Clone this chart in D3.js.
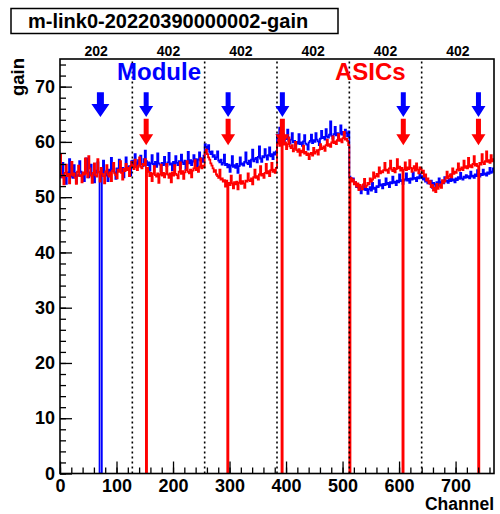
<!DOCTYPE html>
<html><head><meta charset="utf-8">
<script src="https://cdn.jsdelivr.net/npm/d3@7"></script>
<style>body{margin:0;background:#fff}svg{display:block}text{font-family:"Liberation Sans",Arial,sans-serif;font-weight:bold}</style>
</head><body><svg id="c" width="500" height="514"></svg>
<script>
// ---- data (gain per 2-channel bin, one array per ASIC section of 128 channels) ----
const sectionLabels = ["202","402","402","402","402","402"];
const sectionEdges = [128,256,384,512,640];
const xTicks = [0,100,200,300,400,500,600,700];
const yTicks = [0,10,20,30,40,50,60,70];
const moduleMarks = [71];
const asicMarks = [152,297,393,607,740];

const blue0 = [54.3,53.6,56.2,54.0,53.8,52.4,54.5,54.1,56.9,53.7,54.2,53.5,55.8,54.4,52.6,54.0,53.9,56.5,54.6,53.8,54.1,52.9,54.7,57.0,54.3,53.6,54.5,55.9,53.9,54.2,52.7,54.8,54.4,56.3,54.6,0,0,54.2,56.6,54.5,53.9,54.8,52.9,55.0,54.6,57.1,54.7,55.1,54.5,53.3,55.2,54.9,56.8,55.0,54.7,55.3,53.6,55.1,57.2,55.4,55.0,55.6,53.9,56.5];
const blue1 = [56.6,55.9,57.8,56.3,55.4,56.7,56.2,57.5,56.0,55.6,56.9,58.4,56.5,55.8,56.3,54.8,56.1,57.6,56.0,55.7,56.4,55.5,57.9,56.1,55.9,54.7,56.2,55.8,57.3,56.0,55.6,56.3,58.0,55.9,56.1,54.9,56.4,55.7,57.4,56.2,55.8,56.5,55.3,57.7,56.3,56.0,56.6,54.9,56.4,58.2,56.1,56.7,55.8,56.5,57.6,56.3,56.9,55.6,56.8,58.1,56.6,57.0,56.4,57.5];
const blue2 = [59.6,59.1,58.7,59.4,58.2,57.8,58.3,57.3,57.6,56.9,57.2,58.3,56.6,56.3,56.8,55.9,56.2,57.7,55.8,56.0,55.4,55.9,54.6,55.7,57.4,55.5,55.8,55.3,56.0,54.4,55.6,57.2,55.9,56.1,55.7,56.4,58.1,56.2,56.0,56.6,55.5,56.8,58.6,56.5,56.9,57.1,56.3,57.3,59.2,57.0,56.4,57.4,57.2,58.7,57.5,56.8,57.6,59.0,57.4,57.8,56.9,58.1,57.7,58.3];
const blue3 = [61.3,60.8,62.6,61.0,60.6,61.5,59.8,61.1,60.5,62.2,60.3,59.7,60.4,61.6,59.9,60.2,58.8,60.0,59.7,61.4,59.6,59.9,59.3,60.1,61.2,59.7,59.5,58.6,59.9,60.2,61.3,59.8,60.3,60.0,61.6,60.4,60.1,59.4,60.6,62.0,60.7,60.9,60.4,62.3,61.0,60.8,61.3,63.7,61.1,60.6,61.4,62.7,61.2,61.6,60.3,61.5,63.0,61.3,61.8,60.9,62.2,61.6,61.0,61.9];
const blue4 = [53.7,53.2,52.9,53.4,52.4,52.7,51.8,52.3,51.6,52.0,50.7,51.7,51.4,52.5,51.3,51.5,50.6,51.4,51.8,51.2,52.6,51.5,51.7,50.9,52.0,51.8,53.1,52.1,52.3,51.6,52.4,52.2,53.4,52.3,52.6,51.8,52.7,52.5,53.7,52.6,52.8,52.2,53.0,52.7,54.1,52.9,53.1,52.4,53.0,53.2,54.3,53.0,53.3,52.6,53.4,53.2,54.5,53.3,53.5,52.9,53.6,53.4,54.2,53.5];
const blue5 = [53.8,53.2,53.6,52.8,53.3,52.5,52.9,52.4,53.0,51.7,52.6,52.3,52.0,52.7,52.2,53.4,52.4,52.7,52.9,52.5,53.6,52.8,53.0,52.6,53.3,52.9,54.1,53.0,53.2,52.7,53.4,53.1,53.6,53.3,54.4,53.4,53.2,53.7,53.5,54.0,53.6,53.8,53.4,54.6,53.7,53.9,53.5,54.1,53.8,54.9,54.0,53.7,54.2,54.0,55.0,54.1,54.3,53.9,54.5,54.2,55.3,54.4,54.6,55.2];

const red0 = [57.8,54.0,53.6,52.3,54.4,55.9,53.8,54.2,52.5,54.1,56.4,53.9,54.3,53.5,52.4,54.6,55.7,53.8,54.0,52.7,54.5,54.1,57.0,54.3,53.6,57.4,55.2,53.9,52.6,54.4,56.1,54.0,53.7,56.9,54.5,52.8,55.3,54.2,53.8,52.5,54.6,55.8,54.1,53.7,54.5,52.9,54.8,56.2,54.3,54.0,53.4,55.0,54.6,56.5,54.4,53.2,55.1,54.7,56.0,54.9,55.3,53.8,55.6,56.4];
const red1 = [55.6,55.1,56.8,55.4,54.9,55.7,57.2,55.5,55.2,56.0,55.8,56.9,0,55.3,54.6,53.8,54.4,52.9,54.2,55.6,54.0,53.7,54.3,52.6,54.1,55.9,53.9,54.4,53.6,54.2,56.0,54.1,53.5,54.3,52.7,54.5,53.9,55.8,54.2,54.0,53.4,54.6,56.3,54.2,54.7,53.3,54.5,54.9,56.5,54.6,54.3,55.0,53.6,54.8,55.2,56.7,54.9,55.3,54.6,55.5,57.0,55.2,55.7,55.4];
const red2 = [58.1,58.6,57.8,57.2,56.8,56.1,55.7,55.2,54.6,54.9,54.1,53.8,53.5,55.0,53.2,53.4,52.8,53.1,51.9,53.0,0,52.6,52.2,53.9,52.5,51.6,52.7,52.3,52.8,51.4,52.6,54.0,52.4,52.9,52.5,51.7,53.0,52.8,54.3,53.1,52.9,53.4,52.3,53.6,55.0,53.5,53.8,53.2,54.1,55.6,53.9,54.2,53.5,54.4,56.0,54.3,54.7,53.8,54.9,56.2,54.6,55.0,54.4,55.3];
const red3 = [59.7,60.4,59.3,62.0,0,60.1,59.5,59.9,58.7,59.6,60.8,59.2,58.9,59.4,58.3,58.8,60.0,58.5,58.2,58.7,57.5,58.4,58.1,59.3,57.9,58.2,57.6,57.9,56.9,57.8,58.0,57.5,58.9,57.9,58.2,58.5,57.7,58.6,59.6,58.7,58.9,59.2,58.4,59.4,60.4,59.3,59.6,59.1,59.9,61.0,59.8,60.1,59.6,60.3,61.4,60.2,60.5,59.9,60.7,61.8,60.4,60.6,60.2,59.4];
const red4 = [0,53.5,52.8,53.2,52.3,52.7,51.9,52.5,51.3,52.2,51.9,51.4,52.3,53.3,51.8,52.1,52.6,52.3,53.4,52.8,53.2,54.5,53.5,53.8,54.2,53.7,55.4,54.3,54.7,54.5,54.9,56.2,54.8,55.0,54.4,55.2,56.6,55.0,54.7,55.3,54.5,55.1,56.9,55.2,55.5,54.8,55.3,0,55.0,56.3,54.9,55.4,55.1,56.7,55.3,54.6,55.2,55.6,54.8,56.1,55.0,54.3,55.4,55.1];
const red5 = [54.3,54.8,53.7,54.1,53.0,53.4,52.5,52.9,51.8,52.2,51.2,51.7,50.9,52.4,51.5,51.9,52.3,51.7,53.1,52.6,52.9,53.5,54.6,53.4,53.8,54.1,53.6,55.2,54.2,54.6,54.4,55.0,56.1,54.8,55.1,55.4,54.9,56.6,55.3,55.6,55.2,57.1,55.5,55.8,55.4,56.0,57.4,55.7,56.0,55.6,0,56.2,55.9,57.8,56.3,56.0,56.5,58.3,56.4,56.7,56.2,57.6,56.5,56.9];

const blueSections = [blue0,blue1,blue2,blue3,blue4,blue5];
const redSections = [red0,red1,red2,red3,red4,red5];
const binWidth = 2;

// ---- drawing ----
const svg = d3.select("#c");
const L=60,R=494,T=59,B=473.5;
const x = d3.scaleLinear().domain([0,768]).range([L,R]);
const y = d3.scaleLinear().domain([0,75]).range([B,T]);

svg.append("defs").append("clipPath").attr("id","clip")
  .append("rect").attr("x",L).attr("y",T).attr("width",R-L).attr("height",B-T);

// title box
svg.append("rect").attr("x",11).attr("y",8.5).attr("width",327).attr("height",25)
  .attr("fill","#fff").attr("stroke","#000").attr("stroke-width",1.5);
svg.append("text").attr("x",28).attr("y",27.5).attr("font-size",20).text("m-link0-20220390000002-gain");

const plot = svg.append("g").attr("clip-path","url(#clip)");

function histPts(sections){
  const vals = sections.flat();
  const pts=[];
  vals.forEach((v,i)=>{pts.push([i*binWidth,v]);pts.push([(i+1)*binWidth,v]);});
  return pts;
}
const line = d3.line().x(d=>x(d[0])).y(d=>y(d[1]));
plot.append("path").attr("d",line(histPts(blueSections))).attr("fill","none")
  .attr("stroke","#0000ff").attr("stroke-width",1.8);
plot.append("path").attr("d",line(histPts(redSections))).attr("fill","none")
  .attr("stroke","#ff0000").attr("stroke-width",1.8);

// section separators
plot.selectAll("line.sep").data(sectionEdges).enter().append("line")
  .attr("x1",d=>x(d)).attr("x2",d=>x(d)).attr("y1",y(0)).attr("y2",y(75))
  .attr("stroke","#000").attr("stroke-width",1.6).attr("stroke-dasharray","2,3");

// arrows
function arrow(g,cx,top,tip,shaftW,headW,headL,color){
  const yt=y(top), yp=y(tip), yh=yp-headL;
  const p=[[cx-shaftW/2,yt],[cx+shaftW/2,yt],[cx+shaftW/2,yh],[cx+headW/2,yh],[cx,yp],[cx-headW/2,yh],[cx-shaftW/2,yh]];
  g.append("path").attr("d","M"+p.map(q=>q.join(",")).join("L")+"Z").attr("fill",color);
}
const ag = svg.append("g");
moduleMarks.forEach(c=>arrow(ag,x(c+0.5),69,64.5,7,18,13,"#0000ff"));
asicMarks.forEach(c=>arrow(ag,x(c+0.5),69,64.5,5,14,11,"#0000ff"));
asicMarks.forEach(c=>arrow(ag,x(c+0.5),64.2,59.4,5,14,11,"#ff0000"));

// frame
svg.append("rect").attr("x",L).attr("y",T).attr("width",R-L).attr("height",B-T)
  .attr("fill","none").attr("stroke","#000").attr("stroke-width",1.6);

// axes
const xMinor = d3.range(0,769,20);
const yMinor = d3.range(0,75.1,2);
svg.append("g").attr("transform",`translate(0,${B})`)
  .call(d3.axisBottom(x).tickValues(xTicks).tickSize(-12).tickPadding(6).tickFormat(d3.format("d")));
svg.append("g").attr("transform",`translate(0,${B})`)
  .call(d3.axisBottom(x).tickValues(xMinor).tickSize(-6).tickFormat(""));
svg.append("g").attr("transform",`translate(${L},0)`)
  .call(d3.axisLeft(y).tickValues(yTicks).tickSize(-12).tickPadding(5).tickFormat(d3.format("d")));
svg.append("g").attr("transform",`translate(${L},0)`)
  .call(d3.axisLeft(y).tickValues(yMinor).tickSize(-6).tickFormat(""));
svg.selectAll(".domain").remove();
svg.selectAll(".tick line").attr("stroke","#000").attr("stroke-width",1.3);
svg.selectAll(".tick text").attr("font-size",18).attr("fill","#000")
  .style("font-family","'Liberation Sans',Arial,sans-serif").style("font-weight","bold");

// section labels on top
svg.selectAll("text.sec").data(sectionLabels).enter().append("text")
  .attr("x",(d,i)=>x(i*128+64)).attr("y",56).attr("text-anchor","middle")
  .attr("font-size",14).text(d=>d);

// legend texts
svg.append("text").attr("x",117).attr("y",80).attr("font-size",24).attr("fill","#0000ff").text("Module");
svg.append("text").attr("x",335).attr("y",80).attr("font-size",24).attr("fill","#ff0000").text("ASICs");

// axis titles
svg.append("text").attr("text-anchor","end").attr("x",R).attr("y",510).attr("font-size",17.5).text("Channel");
svg.append("text").attr("text-anchor","end").attr("transform","translate(24,58) rotate(-90)").attr("font-size",18.5).text("gain");
</script></body></html>
